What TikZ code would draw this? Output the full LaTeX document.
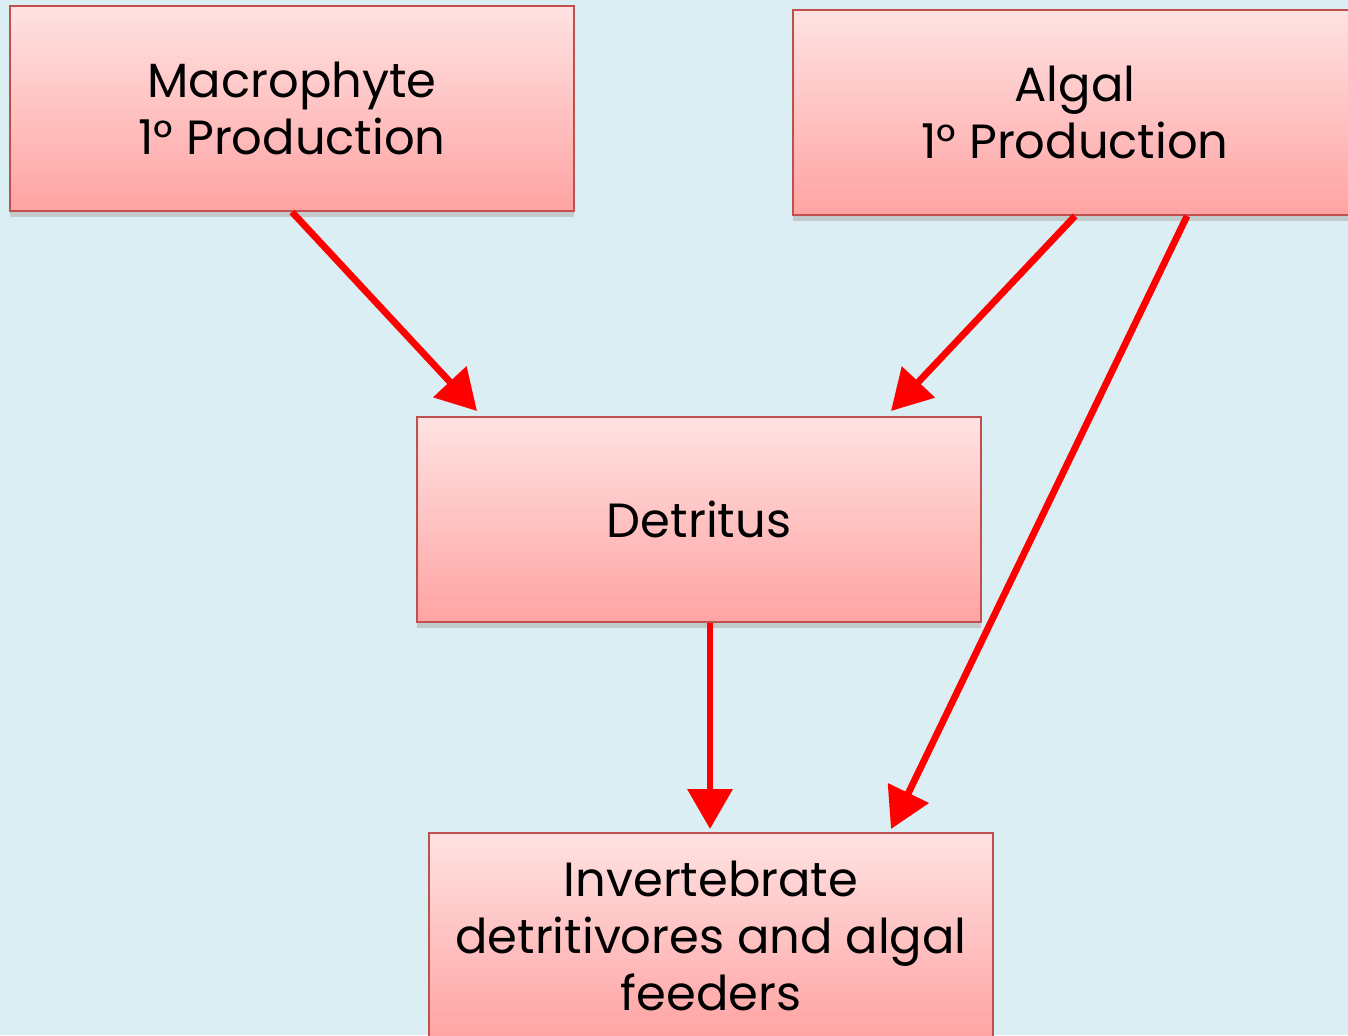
\documentclass[tikz,border=0pt]{standalone}
\usepackage{fontspec}
\setmainfont{Poppins}
\usetikzlibrary{arrows.meta,calc,shadows}
\definecolor{bgblue}{HTML}{DAEEF3}
\definecolor{boxedge}{HTML}{C0504D}
\definecolor{boxtop}{HTML}{FFE2E2}
\definecolor{boxbot}{HTML}{FFA3A3}
\tikzset{
  flowbox/.style={rectangle, draw=boxedge, line width=1pt,
    top color=boxtop, bottom color=boxbot,
    minimum width=282pt, minimum height=102.5pt, inner sep=0pt,
    align=center,
    font=\fontsize{24}{28.5}\selectfont,
    drop shadow={shadow xshift=0pt, shadow yshift=-3pt, fill=gray!60, opacity=0.6}},
  flowarrow/.style={draw=red, line width=3.4pt,
    -{Triangle[length=20pt,width=22pt]}}
}
\begin{document}
\begin{tikzpicture}[x=0.5pt,y=-0.5pt]
\fill[bgblue] (0,0) rectangle (1348,1035);
\useasboundingbox (0,0) rectangle (1348,1035);
\node[flowbox] (macro) at (292,108.5) {Macrophyte\\1° Production};
\node[flowbox] (algal) at (1075,112.5) {Algal\\1° Production};
\node[flowbox] (det) at (699,519.5) {Detritus};
\node[flowbox] (inv) at (711,935.5) {Invertebrate\\detritivores and algal\\feeders};
\coordinate (t1) at ($(det.north west)+(61,-5)$);
\coordinate (t2) at ($(det.north east)+(-91,-5)$);
\coordinate (s3) at ($(algal.south)+(112,0)$);
\coordinate (t3) at ($(inv.north east)+(-103,-3)$);
\coordinate (s4) at ($(det.south)+(11,0)$);
\coordinate (t4) at ($(inv.north)+(-1,-3)$);
\draw[flowarrow] (macro.south) -- (t1);
\draw[flowarrow] (algal.south) -- (t2);
\draw[flowarrow] (s3) -- (t3);
\draw[flowarrow] (s4) -- (t4);
\end{tikzpicture}
\end{document}
